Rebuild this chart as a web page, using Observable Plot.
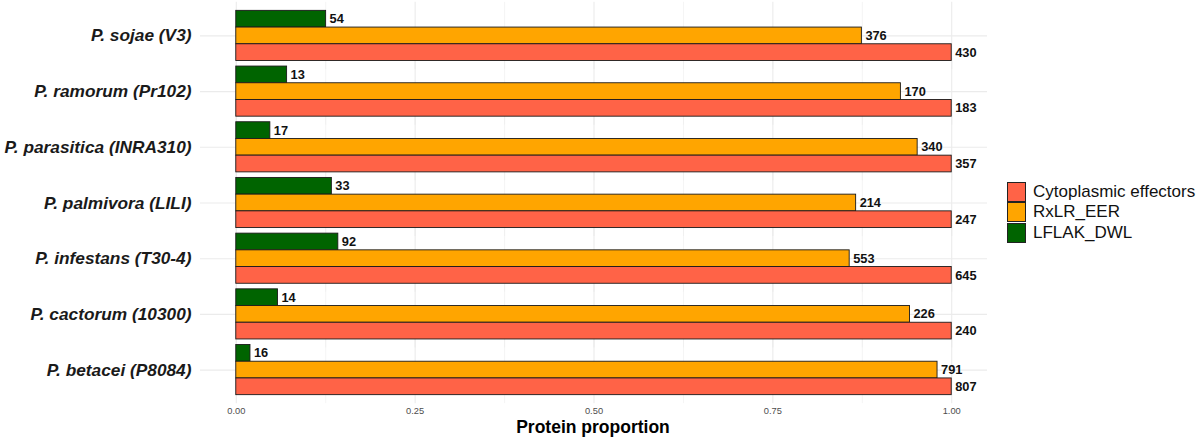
<!DOCTYPE html>
<html>
<head>
<meta charset="utf-8">
<script src="https://cdn.jsdelivr.net/npm/d3@7"></script>
<script src="https://cdn.jsdelivr.net/npm/@observablehq/plot@0.6"></script>
<style>
  html, body { margin: 0; padding: 0; background: #fff; }
  #wrap { position: relative; width: 1200px; height: 439px; font-family: "Liberation Sans", Arial, sans-serif; }
  #chart { position: absolute; left: 0; top: 0; }
  #xtitle { position: absolute; left: 443px; width: 300px; text-align: center; top: 417px; font-size: 17.5px; font-weight: bold; color: #000; }
  #legend { position: absolute; left: 1007px; top: 182px; }
  .li { display: flex; align-items: center; height: 20.3px; }
  .sw { width: 17px; height: 18px; border: 1px solid #222; box-sizing: content-box; margin-right: 7px; }
  .lt { font-size: 17px; color: #111; }
</style>
</head>
<body>
<div id="wrap">
  <div id="chart"></div>
  <div id="xtitle">Protein proportion</div>
  <div id="legend"></div>
</div>
<script>
const species = ["P. sojae (V3)", "P. ramorum (Pr102)", "P. parasitica (INRA310)", "P. palmivora (LILI)", "P. infestans (T30-4)", "P. cactorum (10300)", "P. betacei (P8084)"];
const lflakCounts = [54, 13, 17, 33, 92, 14, 16];
const rxlrCounts = [376, 170, 340, 214, 553, 226, 791];
const cytoCounts = [430, 183, 357, 247, 645, 240, 807];
const types = ["LFLAK_DWL", "RxLR_EER", "Cytoplasmic effectors"];
const typeColors = ["#006400", "#FFA500", "#FF6347"];
const legendOrder = ["Cytoplasmic effectors", "RxLR_EER", "LFLAK_DWL"];
const majorTicks = [0, 0.25, 0.5, 0.75, 1];
const minorTicks = [0.125, 0.375, 0.625, 0.875];

const series = [lflakCounts, rxlrCounts, cytoCounts];
const data = species.flatMap((s, i) => types.map((t, k) => ({
  species: s, type: t, count: series[k][i], prop: series[k][i] / cytoCounts[i]
})));

const plot = Plot.plot({
  width: 990,
  height: 439,
  marginLeft: 200,
  marginRight: 3,
  marginTop: 2,
  marginBottom: 36,
  style: { fontFamily: "Liberation Sans, Arial, sans-serif", background: "#fff" },
  x: { domain: [-0.05, 1.05], label: null },
  y: { domain: types, padding: 0, round: false, axis: null },
  fy: { domain: species, paddingInner: 0.1, paddingOuter: 0.15, round: false, label: null },
  color: { domain: types, range: typeColors },
  marks: [
    Plot.ruleX(minorTicks, { stroke: "#ebebeb", strokeWidth: 0.55, insetTop: -8.5, insetBottom: -8.5 }),
    Plot.ruleX(majorTicks, { stroke: "#ebebeb", strokeWidth: 1.1, insetTop: -8.5, insetBottom: -8.5 }),
    Plot.ruleY(["RxLR_EER"], { y: d => d, stroke: "#ebebeb", strokeWidth: 1.1 }),
    Plot.barX(data, { x: "prop", y: "type", fy: "species", fill: "type", stroke: "#1a1a1a", strokeWidth: 0.9 }),
    Plot.text(data, { x: "prop", y: "type", fy: "species", text: "count", dx: 3.5, textAnchor: "start", fontWeight: "bold", fontSize: 12.8, fill: "#111" }),
    Plot.axisFy({ anchor: "left", tickSize: 0, tickPadding: 9, label: null, fontSize: 17.3, fontWeight: "bold", fontStyle: "italic", fill: "#1a1a1a" }),
    Plot.axisX({ ticks: majorTicks, tickFormat: d3.format(".2f"), tickSize: 0, tickPadding: 12, label: null, fontSize: 9.3, fill: "#4d4d4d" })
  ]
});
document.getElementById("chart").appendChild(plot);

const leg = document.getElementById("legend");
legendOrder.forEach(t => {
  const row = document.createElement("div");
  row.className = "li";
  const sw = document.createElement("div");
  sw.className = "sw";
  sw.style.background = typeColors[types.indexOf(t)];
  const lt = document.createElement("span");
  lt.className = "lt";
  lt.textContent = t;
  row.appendChild(sw);
  row.appendChild(lt);
  leg.appendChild(row);
});
</script>
</body>
</html>
